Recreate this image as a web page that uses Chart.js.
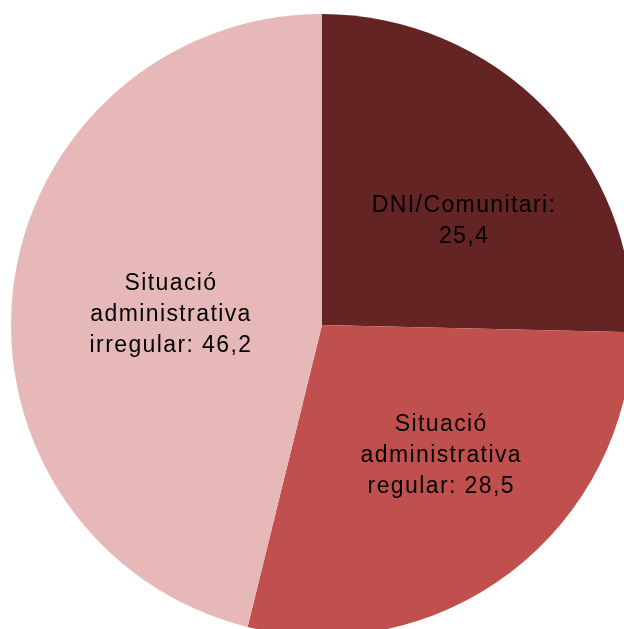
<!DOCTYPE html>
<html>
<head>
<meta charset="utf-8">
<script src="https://cdn.jsdelivr.net/npm/chart.js@4/dist/chart.umd.min.js"></script>
<style>
  html, body { margin: 0; padding: 0; background: #fff; overflow: hidden; width: 624px; height: 629px; }
  #pie { position: absolute; left: 11px; top: 14px; }
</style>
</head>
<body>
<canvas id="pie" width="622" height="622"></canvas>
<script>
// data
const categories = [
    ["DNI/Comunitari:"],
    ["Situació", "administrativa", "regular:"],
    ["Situació", "administrativa", "irregular:"]
];
const values = [25.4, 28.5, 46.2];
const colors = ["#632423", "#C0504D", "#E6B9B8"];

// label placement: fraction of radius and angle nudge (degrees)
const labelPlace = [[0.566, 7.6], [0.565, -4.9], [0.49, -2.7]];

function fmt(v) {
    return v.toFixed(1).replace(".", ",");
}

function labelLines(i) {
    const lines = categories[i].slice();
    const last = lines.length - 1;
    if (i === 0) lines.push(fmt(values[i]));
    else lines[last] = lines[last] + " " + fmt(values[i]);
    return lines;
}

const sliceLabels = {
    id: "sliceLabels",
    afterDatasetsDraw(chart) {
        const ctx = chart.ctx;
        const meta = chart.getDatasetMeta(0);
        ctx.save();
        ctx.font = "23px 'Liberation Sans', Arial, sans-serif";
        ctx.letterSpacing = "1.4px";
        ctx.fillStyle = "#000";
        ctx.textAlign = "center";
        ctx.textBaseline = "middle";
        const lineH = 31;
        meta.data.forEach((arc, i) => {
            const p = arc.getProps(["x", "y", "startAngle", "endAngle", "outerRadius"], true);
            const mid = (p.startAngle + p.endAngle) / 2 + labelPlace[i][1] * Math.PI / 180;
            const r = p.outerRadius * labelPlace[i][0];
            const cx = p.x + Math.cos(mid) * r;
            const cy = p.y + Math.sin(mid) * r;
            const lines = labelLines(i);
            const top = cy - (lines.length - 1) * lineH / 2;
            lines.forEach((t, k) => ctx.fillText(t, cx + 1, top + 1 + k * lineH));
        });
        ctx.restore();
    }
};

const chart = new Chart(document.getElementById("pie"), {
    type: "pie",
    data: {
        labels: categories.map(c => c.join(" ")),
        datasets: [{
            data: values,
            backgroundColor: colors,
            borderWidth: 0
        }]
    },
    options: {
        responsive: false,
        animation: false,
        devicePixelRatio: 1,
        layout: { padding: 0 },
        plugins: {
            legend: { display: false },
            tooltip: { enabled: false }
        }
    },
    plugins: [sliceLabels]
});
</script>
</body>
</html>
